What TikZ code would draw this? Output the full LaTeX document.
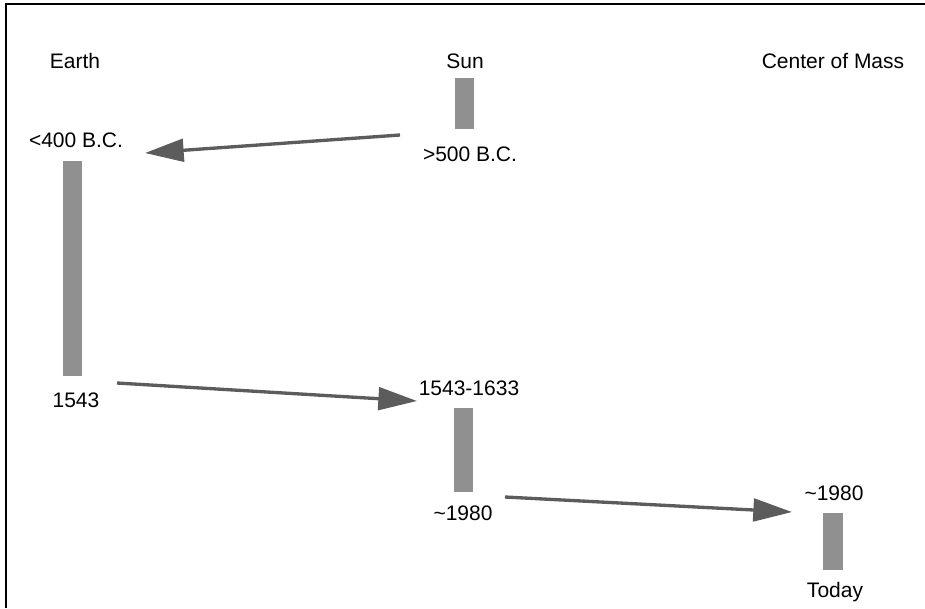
\documentclass[tikz,border=0pt]{standalone}
\usepackage{fontspec}
\setmainfont{Liberation Sans}
\usetikzlibrary{arrows.meta}
\definecolor{barGray}{HTML}{909090}
\definecolor{arrGray}{HTML}{5C5C5C}
\tikzset{
  lbl/.style={anchor=base, inner sep=0pt, font=\fontsize{15.75}{19}\selectfont},
  bar/.style={fill=barGray, inner sep=0pt, minimum width=14.5pt},
  movearrow/.style={draw=arrGray, line width=2.5pt, -{Triangle[length=29pt,width=17pt]}}
}
\begin{document}
\begin{tikzpicture}[x=0.75pt,y=0.75pt,yscale=-1]
\useasboundingbox (0,0) rectangle (925,608);
%Frame
\draw [line width=1.5pt] (6,608) -- (6,4) -- (925,4) ;

% Text Node
\node [lbl] (earth) at (75,68) {Earth};
\node [lbl] (sun) at (465,68) {Sun};
\node [lbl] (com) at (833,68) {Center of Mass};

%Bars
\node [bar, minimum height=38.25pt] (sunold) at (464.5,103) {};
\node [bar, minimum height=161.25pt] (earthbar) at (72.5,268.5) {};
\node [bar, minimum height=63pt] (sunnew) at (463.5,450) {};
\node [bar, minimum height=42.75pt] (combar) at (833,541.5) {};

% Text Node
\node [lbl] (t500bc) at (470,161) {>500 B.C.};
\node [lbl] (t400bc) at (76,147) {<400 B.C.};
\node [lbl] (t1543) at (76,407) {1543};
\node [lbl] (t1543b) at (469,395) {1543-1633};
\node [lbl] (t1980a) at (463,520) {\textasciitilde1980};
\node [lbl] (t1980b) at (834,500) {\textasciitilde1980};
\node [lbl] (today) at (835,597) {Today};

%Straight Lines
\coordinate (a1s) at (400,135);
\coordinate (a1e) at (145,153);
\coordinate (a2s) at (117,383);
\coordinate (a2e) at (417,401);
\coordinate (a3s) at (505,497);
\coordinate (a3e) at (792,512);
\draw [movearrow] (a1s) -- (a1e) ;
\draw [movearrow] (a2s) -- (a2e) ;
\draw [movearrow] (a3s) -- (a3e) ;

\end{tikzpicture}
\end{document}
